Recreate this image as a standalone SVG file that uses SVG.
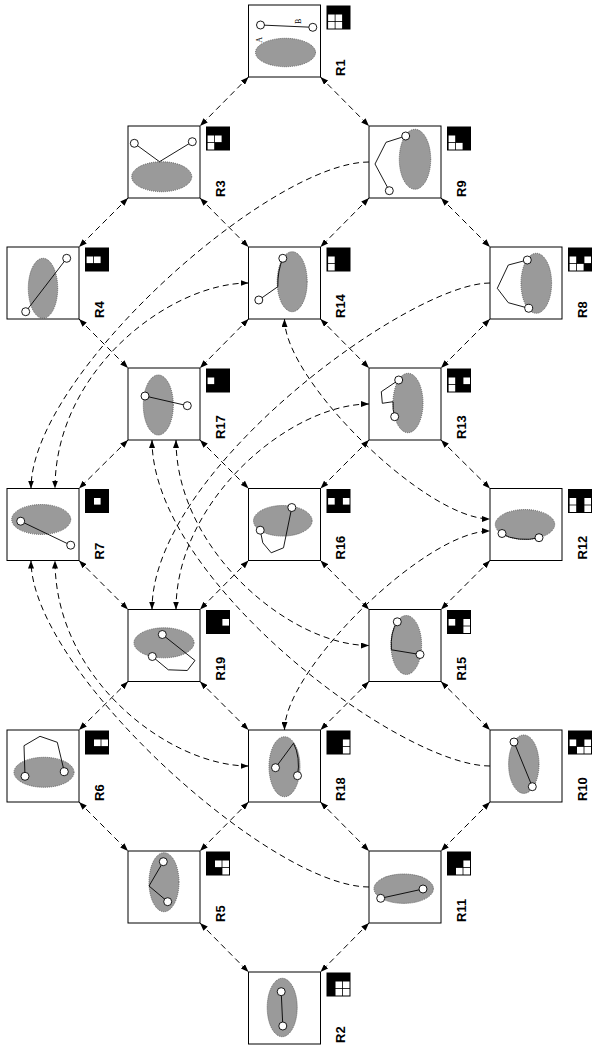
<svg xmlns="http://www.w3.org/2000/svg" width="593" height="1048" viewBox="0 0 593 1048">
<style>
.box{fill:#fff;stroke:#000;stroke-width:1}
.reg{fill:#9a9a9a;stroke:#555;stroke-width:0.9;stroke-dasharray:1 1}
.ln{fill:none;stroke:#000;stroke-width:0.9}
.pt{fill:#fff;stroke:#000;stroke-width:0.9}
.ic{fill:#000}
.cl{fill:#fff}
.lbl{font-family:"Liberation Sans",Arial,sans-serif;font-weight:bold;font-size:13px;fill:#000}
.ab{font-family:"Liberation Serif","Times New Roman",serif;font-size:8px;fill:#000}
.conn{fill:none;stroke:#000;stroke-width:1;stroke-dasharray:6 4}
</style>
<defs>
<marker id="ah" viewBox="0 0 8 6" refX="8" refY="3" markerWidth="8" markerHeight="6" markerUnits="userSpaceOnUse" orient="auto-start-reverse">
<path d="M0,0 L8,3 L0,6 z" fill="#000"/>
</marker>
</defs>
<rect width="593" height="1048" fill="#fff"/>
<g id="connectors">
<g marker-start="url(#ah)" marker-end="url(#ah)">
<path class="conn" d="M248.5,77 L200,126"/>
<path class="conn" d="M320.5,77 L369,126"/>
<path class="conn" d="M128,198 L79,247"/>
<path class="conn" d="M200,198 L248.5,247"/>
<path class="conn" d="M369,198 L320.5,247"/>
<path class="conn" d="M441,198 L490,247"/>
<path class="conn" d="M79,319 L128,368"/>
<path class="conn" d="M248.5,319 L200,368"/>
<path class="conn" d="M320.5,319 L369,368"/>
<path class="conn" d="M490,319 L441,368"/>
<path class="conn" d="M128,440 L79,488.5"/>
<path class="conn" d="M200,440 L248.5,488.5"/>
<path class="conn" d="M369,440 L320.5,488.5"/>
<path class="conn" d="M441,440 L490,488.5"/>
<path class="conn" d="M79,560.5 L128,609.5"/>
<path class="conn" d="M248.5,560.5 L200,609.5"/>
<path class="conn" d="M320.5,560.5 L369,609.5"/>
<path class="conn" d="M490,560.5 L441,609.5"/>
<path class="conn" d="M128,681.5 L79,730"/>
<path class="conn" d="M200,681.5 L248.5,730"/>
<path class="conn" d="M369,681.5 L320.5,730"/>
<path class="conn" d="M441,681.5 L490,730"/>
<path class="conn" d="M79,802 L128,851"/>
<path class="conn" d="M248.5,802 L200,851"/>
<path class="conn" d="M320.5,802 L369,851"/>
<path class="conn" d="M490,802 L441,851"/>
<path class="conn" d="M200,923 L248.5,972"/>
<path class="conn" d="M369,923 L320.5,972"/>
<path class="conn" d="M248.5,283 C170,283 55,370 55,488.5"/>
<path class="conn" d="M369,404 C290,404 176,500 176,609.5"/>
<path class="conn" d="M284.5,319 C284.5,380 425,519 490,519"/>
<path class="conn" d="M284.5,730 C284.5,670 425,531 490,531"/>
<path class="conn" d="M176,440 C176,550 290,645.5 369,645.5"/>
<path class="conn" d="M248.5,766 C170,766 55,680 55,560.5"/>
</g>
<g marker-end="url(#ah)">
<path class="conn" d="M369,162 C270,162 31,375 31,488.5"/>
<path class="conn" d="M490,283 C410,283 152,470 152,609.5"/>
<path class="conn" d="M490,766 C400,766 152,580 152,440"/>
<path class="conn" d="M369,887 C270,887 31,670 31,560.5"/>
</g>
</g>
<g id="R1" transform="translate(248.5,5)">
<rect class="box" width="72" height="72"/>
<ellipse class="reg" cx="37" cy="47.5" rx="30" ry="14.2"/>
<path class="ln" d="M12,20 L64.3,22.3"/>
<circle class="pt" cx="12" cy="20" r="4"/><circle class="pt" cx="64.3" cy="22.3" r="4"/>
<text class="ab" transform="translate(13.7,37.7) rotate(-90)">A</text>
<text class="ab" transform="translate(52.7,19) rotate(-90)">B</text>
<g transform="translate(78,0.5)"><rect class="ic" width="24" height="24"/><rect class="cl" x="1.6" y="9" width="6.6" height="6.6"/><rect class="cl" x="9" y="9" width="6.6" height="6.6"/><rect class="cl" x="1.6" y="16.4" width="6.6" height="6.6"/><rect class="cl" x="9" y="16.4" width="6.6" height="6.6"/></g>
<text class="lbl" transform="translate(96.5,71) rotate(-90)">R1</text>
</g>
<g id="R3" transform="translate(128,126)">
<rect class="box" width="72" height="72"/>
<ellipse class="reg" cx="33.7" cy="50.7" rx="30" ry="15"/>
<path class="ln" d="M6.3,17.3 L31.5,35.7 L64.3,15.7"/>
<circle class="pt" cx="6.3" cy="17.3" r="4"/><circle class="pt" cx="64.3" cy="15.7" r="4"/>
<g transform="translate(78,0.5)"><rect class="ic" width="24" height="24"/><rect class="cl" x="1.6" y="9" width="6.6" height="6.6"/><rect class="cl" x="9" y="9" width="6.6" height="6.6"/><rect class="cl" x="1.6" y="16.4" width="6.6" height="6.6"/></g>
<text class="lbl" transform="translate(96.5,71) rotate(-90)">R3</text>
</g>
<g id="R9" transform="translate(369,126)">
<rect class="box" width="72" height="72"/>
<ellipse class="reg" cx="46" cy="33.3" rx="15.7" ry="30"/>
<path class="ln" d="M36.7,10 L17,16.3 L6,38 L20.3,64.7"/>
<circle class="pt" cx="36.7" cy="10" r="4"/><circle class="pt" cx="20.3" cy="64.7" r="4"/>
<g transform="translate(78,0.5)"><rect class="ic" width="24" height="24"/><rect class="cl" x="1.6" y="9" width="6.6" height="6.6"/><rect class="cl" x="1.6" y="16.4" width="6.6" height="6.6"/><rect class="cl" x="9" y="16.4" width="6.6" height="6.6"/></g>
<text class="lbl" transform="translate(96.5,71) rotate(-90)">R9</text>
</g>
<g id="R4" transform="translate(7,247)">
<rect class="box" width="72" height="72"/>
<ellipse class="reg" cx="36" cy="41.3" rx="14.7" ry="30"/>
<path class="ln" d="M59.7,11.3 L18.7,64.7"/>
<circle class="pt" cx="59.7" cy="11.3" r="4"/><circle class="pt" cx="18.7" cy="64.7" r="4"/>
<g transform="translate(78,0.5)"><rect class="ic" width="24" height="24"/><rect class="cl" x="1.6" y="9" width="6.6" height="6.6"/><rect class="cl" x="9" y="9" width="6.6" height="6.6"/></g>
<text class="lbl" transform="translate(96.5,71) rotate(-90)">R4</text>
</g>
<g id="R14" transform="translate(248.5,247)">
<rect class="box" width="72" height="72"/>
<ellipse class="reg" cx="43.7" cy="34.7" rx="15" ry="30"/>
<path class="ln" d="M34.3,11.3 Q29,24 29.3,39.7 L10.3,53"/>
<circle class="pt" cx="34.3" cy="11.3" r="4"/><circle class="pt" cx="10.3" cy="53" r="4"/>
<g transform="translate(78,0.5)"><rect class="ic" width="24" height="24"/><rect class="cl" x="1.6" y="9" width="6.6" height="6.6"/><rect class="cl" x="1.6" y="16.4" width="6.6" height="6.6"/></g>
<text class="lbl" transform="translate(96.5,71) rotate(-90)">R14</text>
</g>
<g id="R8" transform="translate(490,247)">
<rect class="box" width="72" height="72"/>
<ellipse class="reg" cx="46.3" cy="36.3" rx="15.3" ry="30"/>
<path class="ln" d="M37.3,13 L18.3,18 L7.3,41.3 L18.3,55.7 L38.7,61.3"/>
<circle class="pt" cx="37.3" cy="13" r="4"/><circle class="pt" cx="38.7" cy="61.3" r="4"/>
<g transform="translate(78,0.5)"><rect class="ic" width="24" height="24"/><rect class="cl" x="1.6" y="9" width="6.6" height="6.6"/><rect class="cl" x="16.4" y="9" width="6.6" height="6.6"/><rect class="cl" x="1.6" y="16.4" width="6.6" height="6.6"/><rect class="cl" x="9" y="16.4" width="6.6" height="6.6"/></g>
<text class="lbl" transform="translate(96.5,71) rotate(-90)">R8</text>
</g>
<g id="R17" transform="translate(128,368)">
<rect class="box" width="72" height="72"/>
<ellipse class="reg" cx="30.3" cy="37" rx="15" ry="30"/>
<path class="ln" d="M17,28 L59.3,37.7"/>
<circle class="pt" cx="17" cy="28" r="4"/><circle class="pt" cx="59.3" cy="37.7" r="4"/>
<g transform="translate(78,0.5)"><rect class="ic" width="24" height="24"/><rect class="cl" x="1.6" y="9" width="6.6" height="6.6"/></g>
<text class="lbl" transform="translate(96.5,71) rotate(-90)">R17</text>
</g>
<g id="R13" transform="translate(369,368)">
<rect class="box" width="72" height="72"/>
<ellipse class="reg" cx="39" cy="35" rx="15" ry="29.7"/>
<path class="ln" d="M29.7,12 L12.3,23.7 L13.3,35.3 L24,33.7 Q23.5,42 25.7,48.7"/>
<circle class="pt" cx="29.7" cy="12" r="4"/><circle class="pt" cx="25.7" cy="48.7" r="4"/>
<g transform="translate(78,0.5)"><rect class="ic" width="24" height="24"/><rect class="cl" x="1.6" y="9" width="6.6" height="6.6"/><rect class="cl" x="16.4" y="9" width="6.6" height="6.6"/><rect class="cl" x="1.6" y="16.4" width="6.6" height="6.6"/></g>
<text class="lbl" transform="translate(96.5,71) rotate(-90)">R13</text>
</g>
<g id="R7" transform="translate(7,488.5)">
<rect class="box" width="72" height="72"/>
<ellipse class="reg" cx="34.2" cy="31" rx="29.5" ry="15"/>
<path class="ln" d="M13.7,32.7 L63.7,56.7"/>
<circle class="pt" cx="13.7" cy="32.7" r="4"/><circle class="pt" cx="63.7" cy="56.7" r="4"/>
<g transform="translate(78,0.5)"><rect class="ic" width="24" height="24"/><rect class="cl" x="9" y="9" width="6.6" height="6.6"/></g>
<text class="lbl" transform="translate(96.5,71) rotate(-90)">R7</text>
</g>
<g id="R16" transform="translate(248.5,488.5)">
<rect class="box" width="72" height="72"/>
<ellipse class="reg" cx="34.3" cy="32.3" rx="29.3" ry="15.3"/>
<path class="ln" d="M11.7,41.7 L14.3,54.3 L22.7,64.3 L35,59.3 L43.3,19"/>
<circle class="pt" cx="43.3" cy="19" r="4"/><circle class="pt" cx="11.7" cy="41.7" r="4"/>
<g transform="translate(78,0.5)"><rect class="ic" width="24" height="24"/><rect class="cl" x="1.6" y="9" width="6.6" height="6.6"/><rect class="cl" x="16.4" y="9" width="6.6" height="6.6"/></g>
<text class="lbl" transform="translate(96.5,71) rotate(-90)">R16</text>
</g>
<g id="R12" transform="translate(490,488.5)">
<rect class="box" width="72" height="72"/>
<ellipse class="reg" cx="35" cy="36" rx="29.7" ry="15"/>
<path class="ln" d="M12,45.3 A29.7,15 0 0 0 49,49.2"/>
<circle class="pt" cx="12" cy="45" r="4"/><circle class="pt" cx="49" cy="49.2" r="4"/>
<g transform="translate(78,0.5)"><rect class="ic" width="24" height="24"/><rect class="cl" x="1.6" y="9" width="6.6" height="6.6"/><rect class="cl" x="16.4" y="9" width="6.6" height="6.6"/><rect class="cl" x="1.6" y="16.4" width="6.6" height="6.6"/><rect class="cl" x="16.4" y="16.4" width="6.6" height="6.6"/></g>
<text class="lbl" transform="translate(96.5,71) rotate(-90)">R12</text>
</g>
<g id="R19" transform="translate(128,609.5)">
<rect class="box" width="72" height="72"/>
<ellipse class="reg" cx="36" cy="33.3" rx="30" ry="15"/>
<path class="ln" d="M34.3,25 L67,51 L59.3,61 L40.3,60.3 L24.3,47"/>
<circle class="pt" cx="34.3" cy="25" r="4"/><circle class="pt" cx="24.3" cy="47" r="4"/>
<g transform="translate(78,0.5)"><rect class="ic" width="24" height="24"/><rect class="cl" x="16.4" y="9" width="6.6" height="6.6"/></g>
<text class="lbl" transform="translate(96.5,71) rotate(-90)">R19</text>
</g>
<g id="R15" transform="translate(369,609.5)">
<rect class="box" width="72" height="72"/>
<ellipse class="reg" cx="37.3" cy="35.5" rx="15.3" ry="29.5"/>
<path class="ln" d="M28.3,12.3 A15.3,29.5 0 0 0 22.4,40.3 L51,45"/>
<circle class="pt" cx="28.3" cy="12.3" r="4"/><circle class="pt" cx="51" cy="45" r="4"/>
<g transform="translate(78,0.5)"><rect class="ic" width="24" height="24"/><rect class="cl" x="1.6" y="9" width="6.6" height="6.6"/><rect class="cl" x="16.4" y="9" width="6.6" height="6.6"/><rect class="cl" x="16.4" y="16.4" width="6.6" height="6.6"/></g>
<text class="lbl" transform="translate(96.5,71) rotate(-90)">R15</text>
</g>
<g id="R6" transform="translate(7,730)">
<rect class="box" width="72" height="72"/>
<ellipse class="reg" cx="37" cy="42.3" rx="30" ry="15"/>
<path class="ln" d="M18,46.3 L17,15.7 L33,6.3 L50.3,12.3 L57.3,41.7"/>
<circle class="pt" cx="18" cy="46.3" r="4"/><circle class="pt" cx="57.3" cy="41.7" r="4"/>
<g transform="translate(78,0.5)"><rect class="ic" width="24" height="24"/><rect class="cl" x="9" y="9" width="6.6" height="6.6"/><rect class="cl" x="16.4" y="9" width="6.6" height="6.6"/></g>
<text class="lbl" transform="translate(96.5,71) rotate(-90)">R6</text>
</g>
<g id="R18" transform="translate(248.5,730)">
<rect class="box" width="72" height="72"/>
<ellipse class="reg" cx="36" cy="36.7" rx="15.5" ry="30"/>
<path class="ln" d="M27,37.7 L45,13.3 A15.5,30 0 0 1 49,45.7"/>
<circle class="pt" cx="27" cy="37.7" r="4"/><circle class="pt" cx="49" cy="45.7" r="4"/>
<g transform="translate(78,0.5)"><rect class="ic" width="24" height="24"/><rect class="cl" x="16.4" y="9" width="6.6" height="6.6"/><rect class="cl" x="16.4" y="16.4" width="6.6" height="6.6"/></g>
<text class="lbl" transform="translate(96.5,71) rotate(-90)">R18</text>
</g>
<g id="R10" transform="translate(490,730)">
<rect class="box" width="72" height="72"/>
<ellipse class="reg" cx="33.8" cy="34.2" rx="15.2" ry="29.2"/>
<path class="ln" d="M24,12 L42.3,56.7"/>
<circle class="pt" cx="24" cy="12" r="4"/><circle class="pt" cx="42.3" cy="56.7" r="4"/>
<g transform="translate(78,0.5)"><rect class="ic" width="24" height="24"/><rect class="cl" x="1.6" y="9" width="6.6" height="6.6"/><rect class="cl" x="16.4" y="9" width="6.6" height="6.6"/><rect class="cl" x="9" y="16.4" width="6.6" height="6.6"/><rect class="cl" x="16.4" y="16.4" width="6.6" height="6.6"/></g>
<text class="lbl" transform="translate(96.5,71) rotate(-90)">R10</text>
</g>
<g id="R5" transform="translate(128,851)">
<rect class="box" width="72" height="72"/>
<ellipse class="reg" cx="36" cy="31.2" rx="15" ry="29.5"/>
<path class="ln" d="M35.3,10.7 L21,35 L39.7,50.7"/>
<circle class="pt" cx="35.3" cy="10.7" r="4"/><circle class="pt" cx="39.7" cy="50.7" r="4"/>
<g transform="translate(78,0.5)"><rect class="ic" width="24" height="24"/><rect class="cl" x="9" y="9" width="6.6" height="6.6"/><rect class="cl" x="16.4" y="9" width="6.6" height="6.6"/><rect class="cl" x="16.4" y="16.4" width="6.6" height="6.6"/></g>
<text class="lbl" transform="translate(96.5,71) rotate(-90)">R5</text>
</g>
<g id="R11" transform="translate(369,851)">
<rect class="box" width="72" height="72"/>
<ellipse class="reg" cx="34.7" cy="37.7" rx="29.7" ry="14.7"/>
<path class="ln" d="M11.7,47.3 L54,38"/>
<circle class="pt" cx="11.7" cy="47.3" r="4"/><circle class="pt" cx="54" cy="38" r="4"/>
<g transform="translate(78,0.5)"><rect class="ic" width="24" height="24"/><rect class="cl" x="16.4" y="9" width="6.6" height="6.6"/><rect class="cl" x="9" y="16.4" width="6.6" height="6.6"/><rect class="cl" x="16.4" y="16.4" width="6.6" height="6.6"/></g>
<text class="lbl" transform="translate(96.5,71) rotate(-90)">R11</text>
</g>
<g id="R2" transform="translate(248.5,972)">
<rect class="box" width="72" height="72"/>
<ellipse class="reg" cx="33.7" cy="35.5" rx="15" ry="29.2"/>
<path class="ln" d="M32.7,19.7 L34.3,54"/>
<circle class="pt" cx="32.7" cy="19.7" r="4"/><circle class="pt" cx="34.3" cy="54" r="4"/>
<g transform="translate(78,0.5)"><rect class="ic" width="24" height="24"/><rect class="cl" x="9" y="9" width="6.6" height="6.6"/><rect class="cl" x="16.4" y="9" width="6.6" height="6.6"/><rect class="cl" x="9" y="16.4" width="6.6" height="6.6"/><rect class="cl" x="16.4" y="16.4" width="6.6" height="6.6"/></g>
<text class="lbl" transform="translate(96.5,71) rotate(-90)">R2</text>
</g>
</svg>
